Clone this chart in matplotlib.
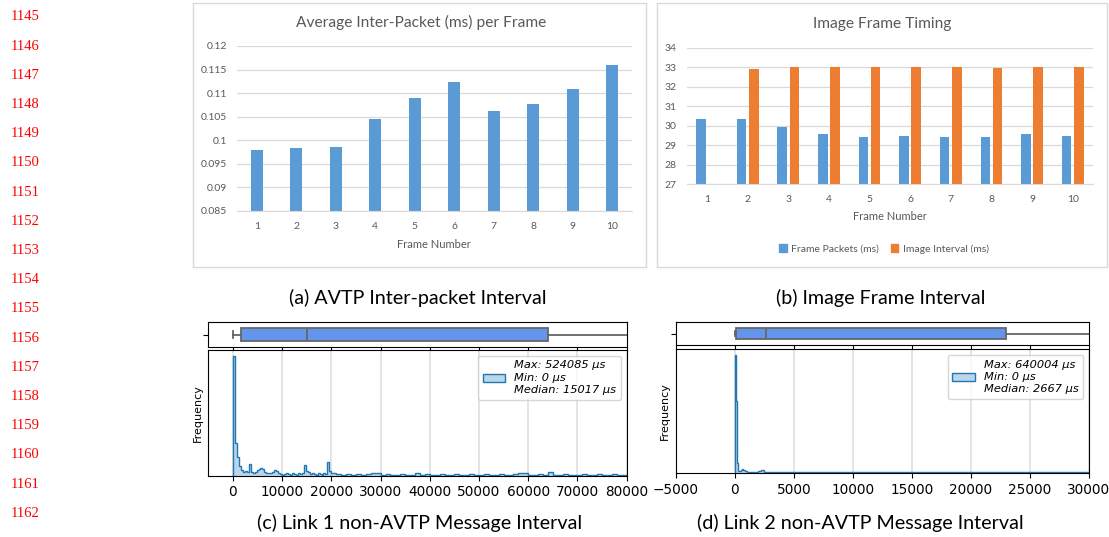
import numpy as np
import matplotlib
matplotlib.use("Agg")
import matplotlib.pyplot as plt
from matplotlib.patches import Rectangle, Patch

# --- datos -------------------------------------------------------------
frames = [1, 2, 3, 4, 5, 6, 7, 8, 9, 10]
inter_packet = [0.0980, 0.0984, 0.0986, 0.1045, 0.1089, 0.1124, 0.1063, 0.1078, 0.1109, 0.1160]
inter_ticks = [0.085, 0.09, 0.095, 0.1, 0.105, 0.11, 0.115, 0.12]
inter_labels = ["0.085", "0.09", "0.095", "0.1", "0.105", "0.11", "0.115", "0.12"]

frame_packets = [30.32, 30.32, 29.91, 29.57, 29.41, 29.46, 29.43, 29.43, 29.58, 29.46]
image_interval = [np.nan, 32.92, 32.99, 32.99, 33.02, 32.99, 33.02, 32.96, 33.00, 32.99]
timing_ticks = [27, 28, 29, 30, 31, 32, 33, 34]

# histograma link 1 (frecuencia relativa al pico = 100)
l1_breaks = [0, 20000, 80000]
l1_widths = [400, 1000]
l1_counts = [100, 27, 16, 8, 5, 3, 4, 3.5, 10, 3,
             2, 3.5, 5, 6, 6.5, 6, 3, 2, 2.5, 2,
             3, 4.5, 4, 2, 1.5, 1, 1.5, 2, 1.5, 1,
             2, 1.5, 1, 2, 1.5, 2, 9, 4, 3, 1.5,
             2, 1.5, 1, 2, 1.5, 1, 2, 1.5, 11.5, 4,
             2, 1.5, 1, 1.5, 1, 1.5, 1, 1.5, 2.5, 2,
             1, 1.5, 1, 1, 1.5, 1, 1, 2.5, 1, 1.5,
             1, 1, 1.5, 1, 1, 1.5, 1, 1, 1.5, 1,
             1, 1.5, 1, 1, 1.5, 1, 1, 1.5, 2, 2,
             1, 1, 1.5, 1, 3.5, 1, 1, 1.5, 1, 1,
             1, 1.5, 1, 1, 1.5, 1, 1, 1.5, 1, 1]
l1_stats = dict(med=15017, q1=1630, q3=64090, whislo=0, whishi=157780, fliers=[])
l1_text = "Max: 524085 µs\nMin: 0 µs\nMedian: 15017 µs"

# histograma link 2
l2_breaks = [0, 1000, 3000, 30000]
l2_widths = [100, 250, 1000]
l2_counts = [100, 61, 8.5, 2, 2, 3, 3.5, 3, 2.5, 2,
             1.5, 1.5, 1, 1.5, 2, 2.5, 1.5, 1,
             1, 1, 0.8, 1, 1, 0.8, 0.8, 1, 0.8, 0.8,
             0.8, 0.8, 0.8, 0.8, 0.8, 0.7, 0.8, 0.8, 0.7, 0.8,
             0.8, 0.7, 0.8, 0.7, 0.7, 0.8, 0.7]
l2_stats = dict(med=2667, q1=113, q3=22940, whislo=0, whishi=57180, fliers=[])
l2_text = "Max: 640004 µs\nMin: 0 µs\nMedian: 2667 µs"

captions = ["(a) AVTP Inter-packet Interval", "(b) Image Frame Interval",
            "(c) Link 1 non-AVTP Message Interval", "(d) Link 2 non-AVTP Message Interval"]
line_numbers = list(range(1145, 1163))

W, H = 1109, 537
GRIS = "#595959"
GRID = "#d9d9d9"
AZUL = "#5b9bd5"
NARANJA = "#ed7d31"
HIST = "#1f77b4"


def rect(l, t, r, b):
    return [l / W, 1 - b / H, (r - l) / W, (b - t) / H]


def edges_de(breaks, widths):
    partes = [np.arange(breaks[i], breaks[i + 1], widths[i]) for i in range(len(widths))]
    return np.concatenate(partes + [[breaks[-1]]])


fig = plt.figure(figsize=(W / 100, H / 100), dpi=100)

# numeros de linea
for i, n in enumerate(line_numbers):
    fig.text(25 / W, 1 - (17 + i * 29.2) / H, str(n), color="red", ha="center", va="center",
             fontsize=10.5, family="Liberation Serif")

# marcos estilo Excel
for l, t, r, b in [(193, 3, 646, 267), (657, 3, 1107, 267)]:
    fig.add_artist(Rectangle((l / W, 1 - b / H), (r - l) / W, (b - t) / H, transform=fig.transFigure,
                             fill=False, edgecolor=GRID, lw=1))


def estilo_excel(ax):
    for s in ["top", "right", "left"]:
        ax.spines[s].set_visible(False)
    ax.spines["bottom"].set_color(GRID)
    ax.grid(axis="y", color=GRID, lw=0.9)
    ax.set_axisbelow(True)
    ax.tick_params(length=0, colors=GRIS, labelsize=7.5)
    for lab in ax.get_xticklabels() + ax.get_yticklabels():
        lab.set_family("Lato")


# (a)
ax1 = fig.add_axes(rect(237, 46, 632, 211))
ax1.bar(frames, inter_packet, width=0.3, color=AZUL)
ax1.set_xlim(0.5, 10.5)
ax1.set_ylim(0.085, 0.12)
ax1.set_yticks(inter_ticks)
ax1.set_yticklabels(inter_labels)
ax1.set_xticks(frames)
estilo_excel(ax1)
ax1.tick_params(axis="x", pad=8)
ax1.tick_params(axis="y", pad=7)
fig.text(421 / W, 1 - 22 / H, "Average Inter-Packet (ms) per Frame", ha="center", va="center",
         color=GRIS, fontsize=11.2, family="Lato")
fig.text(434 / W, 1 - 244 / H, "Frame Number", ha="center", va="center", color=GRIS,
         fontsize=8, family="Lato")

# (b)
ax2 = fig.add_axes(rect(686.7, 47.7, 1093, 184))
x = np.array(frames)
ax2.bar(x - 0.15, frame_packets, width=0.235, color=AZUL, label="Frame Packets (ms)")
ax2.bar(x + 0.15, image_interval, width=0.235, color=NARANJA, label="Image Interval (ms)")
ax2.set_xlim(0.5, 10.5)
ax2.set_ylim(27, 34)
ax2.set_yticks(timing_ticks)
ax2.set_xticks(frames)
estilo_excel(ax2)
ax2.tick_params(axis="x", pad=8)
ax2.tick_params(axis="y", pad=7.5)
fig.text(882 / W, 1 - 24 / H, "Image Frame Timing", ha="center", va="center",
         color=GRIS, fontsize=11.2, family="Lato")
fig.text(890 / W, 1 - 217 / H, "Frame Number", ha="center", va="center", color=GRIS,
         fontsize=8, family="Lato")
leg = fig.legend(handles=[Patch(color=AZUL, label="Frame Packets (ms)"),
                          Patch(color=NARANJA, label="Image Interval (ms)")],
                 loc="center", bbox_to_anchor=(884 / W, 1 - 249 / H), ncol=2, frameon=False,
                 handlelength=0.7, handleheight=0.7, handletextpad=0.4, columnspacing=1.2,
                 prop={"family": "Lato", "size": 7.5})
for t in leg.get_texts():
    t.set_color(GRIS)


# (c) y (d)
def panel_hist(caja, hist, stats, breaks, widths, counts, texto, xlim, ticks):
    axb = fig.add_axes(rect(*caja))
    axh = fig.add_axes(rect(*hist))
    gris = "#666666"
    axb.bxp([stats], positions=[0], widths=0.5, vert=False, patch_artist=True, showfliers=False,
            boxprops=dict(facecolor="#6495ed", edgecolor=gris, lw=1.3),
            medianprops=dict(color=gris, lw=1.3), whiskerprops=dict(color=gris, lw=1.3),
            capprops=dict(color=gris, lw=1.3))
    axb.set_ylim(-0.5, 0.5)
    axb.set_yticks([0])
    axb.set_yticklabels([""])
    axb.set_xlim(*xlim)
    axb.set_xticks(ticks)
    axb.set_xticklabels([])

    edges = edges_de(breaks, widths)
    axh.stairs(counts, edges, fill=True, color=(0.12, 0.47, 0.71, 0.3), lw=0)
    axh.stairs(counts, edges, color=HIST, lw=1)
    axh.set_xlim(*xlim)
    axh.set_ylim(0, 105)
    axh.set_xticks(ticks)
    axh.set_yticks([])
    axh.tick_params(labelsize=9.8)
    axh.grid(axis="x", color="#dcdcdc", lw=1.1)
    axh.set_axisbelow(True)
    axh.set_ylabel("Frequency", fontsize=8, labelpad=4)
    manija = Patch(facecolor=(0.12, 0.47, 0.71, 0.3), edgecolor=HIST, label=texto)
    lg = axh.legend(handles=[manija], loc="upper right", prop={"style": "italic", "size": 8.2})
    for t in lg.get_texts():
        t.set_linespacing(1.3)
    return axb, axh


panel_hist((208.3, 322, 626.7, 347), (208.3, 350, 626.7, 475.7), l1_stats, l1_breaks, l1_widths,
           l1_counts, l1_text, (-5000, 80000), list(range(0, 80001, 10000)))
panel_hist((675.7, 322, 1089, 345), (675.7, 349.3, 1089, 473.3), l2_stats, l2_breaks, l2_widths,
           l2_counts, l2_text, (-5000, 30000), list(range(-5000, 30001, 5000)))

# leyendas de las figuras
for (cx, cy), txt in zip([(418, 298), (881, 298), (420, 523), (860, 523)], captions):
    fig.text(cx / W, 1 - cy / H, txt, ha="center", va="center", fontsize=14.2, family="Lato")

fig.savefig("out.png", dpi=100)
